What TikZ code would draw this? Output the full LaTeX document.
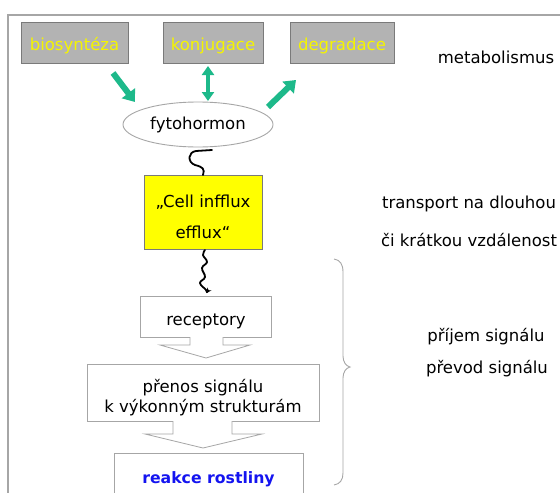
\documentclass[tikz,border=0pt]{standalone}
\usepackage{fontspec}
\setmainfont{DejaVu Sans}
\usetikzlibrary{shapes.geometric,arrows.meta}
\definecolor{boxgray}{HTML}{B3B3B3}
\definecolor{boxedge}{HTML}{7A7A7A}
\definecolor{ttext}{HTML}{F5F500}
\definecolor{garr}{HTML}{1DB98A}
\definecolor{lgray}{HTML}{A6A6A6}
\definecolor{rblue}{HTML}{1414F0}
\definecolor{cellyellow}{HTML}{FFFF00}
\begin{document}
\begin{tikzpicture}[x=1pt,y=-1pt,
  every node/.style={font=\fontsize{16.5}{20}\selectfont, inner sep=0pt, outer sep=0pt},
  topbox/.style={draw=boxedge, fill=boxgray, line width=1pt, text=ttext, minimum height=41pt},
  whitebox/.style={draw=lgray, fill=white, line width=0.8pt, align=center},
  plain/.style={text=black},
  garrow/.style={draw=garr, line width=6pt, -{Triangle[length=11pt,width=16pt]}},
  gdarrow/.style={draw=garr, line width=4.5pt, {Triangle[length=9pt,width=12pt]}-{Triangle[length=9pt,width=12pt]}},
  squig/.style={draw=black, line width=1.8pt, line cap=round},
  blockarrow/.style={draw=lgray, fill=white, line width=0.8pt, line join=miter},
  framel/.style={draw=lgray, line width=1.5pt},
  bracel/.style={draw=lgray, line width=0.9pt}
]
\useasboundingbox (0,0) rectangle (560,493);
\clip (0,0) rectangle (560,493);
\fill[white] (0,0) rectangle (560,493);
\draw[framel] (561,15) -- (8,15) -- (8,494);

% top boxes
\node[topbox, minimum width=107pt] (bio) at (74.5,42.5) {\raisebox{-3pt}[\height][\depth]{biosyntéza}};
\node[topbox, minimum width=100pt] (konj) at (213,42.5) {\raisebox{-3pt}[\height][\depth]{konjugace}};
\node[topbox, minimum width=104pt] (degr) at (342,42.5) {\raisebox{-3pt}[\height][\depth]{degradace}};
\node[plain] (meta) at (496,57) {metabolismus};

% hormone
\node[draw=lgray, line width=0.9pt, ellipse, minimum width=150pt, minimum height=45pt] (fyto) at (198,124.5) {fytohormon};

\coordinate (a1s) at (113,73);
\coordinate (a1e) at (135,102);
\coordinate (a2s) at (208,66);
\coordinate (a2e) at (208,101);
\coordinate (a3s) at (268,107);
\coordinate (a3e) at (296,80);
\draw[garrow] (a1s) -- (a1e);
\draw[gdarrow] (a2s) -- (a2e);
\draw[garrow] (a3s) -- (a3e);

% cell influx
\node[draw=boxedge, fill=cellyellow, line width=0.9pt, minimum width=118pt, minimum height=74pt] (cell) at (203,212) {};
\node[font=\fontsize{16.5}{31}\selectfont, align=center] (celltext) at ([yshift=-5pt]cell.center) {„Cell infflux\\efflux“};

\coordinate (w1s) at (212,150);
\draw[squig] (w1s) -- (196,151) .. controls (188,152) and (187,162) .. (195,165)
   .. controls (203,167) and (205,169) .. (cell.north);

% receptory
\node[whitebox, minimum width=131pt, minimum height=41pt] (recep) at (206,316.5) {\raisebox{-5pt}[\height][\depth]{receptory}};
\draw[squig, -{Stealth[length=5pt,width=5pt]}] plot[smooth, tension=0.7] coordinates
  {(205,250) (203,255) (207,262) (202,268) (205,277) (200,283) (206,290) (206.5,293)};

% transmission
\node[whitebox, minimum width=232pt, minimum height=57pt] (prenos) at (203,392.5) {};
\node[font=\fontsize{16.5}{20.5}\selectfont, align=center] (prenostext) at ([yshift=-5pt]prenos.center) {přenos signálu\\k výkonným strukturám};

\draw[blockarrow] (190,337) -- (190,345) -- (160,345) -- (206,358) -- (250,345) -- (223,345) -- (223,337);
\draw[blockarrow] (173,421) -- (173,434) -- (145,434) -- (203,448) -- (262,434) -- (232,434) -- (232,421);

\node[whitebox, minimum width=189pt, minimum height=52pt, text=rblue, font=\fontsize{15.7}{20}\selectfont\bfseries] (reakce) at (208.5,479) {reakce rostliny};

% brace
\draw[bracel] (334,259) .. controls (340,260) and (343,264) .. (343,272) -- (343,356)
  .. controls (343,362) and (346,366) .. (350,367)
  .. controls (346,368) and (343,372) .. (343,378) -- (343,473)
  .. controls (343,480) and (340,484) .. (334,485);

% right labels
\node[plain] (t1) at (469,204) {transport na dlouhou};
\node[plain] (t2) at (469,240) {či krátkou vzdálenost};
\node[plain] (t3) at (486,337) {příjem signálu};
\node[plain] (t4) at (487,369) {převod signálu};
\end{tikzpicture}
\end{document}
